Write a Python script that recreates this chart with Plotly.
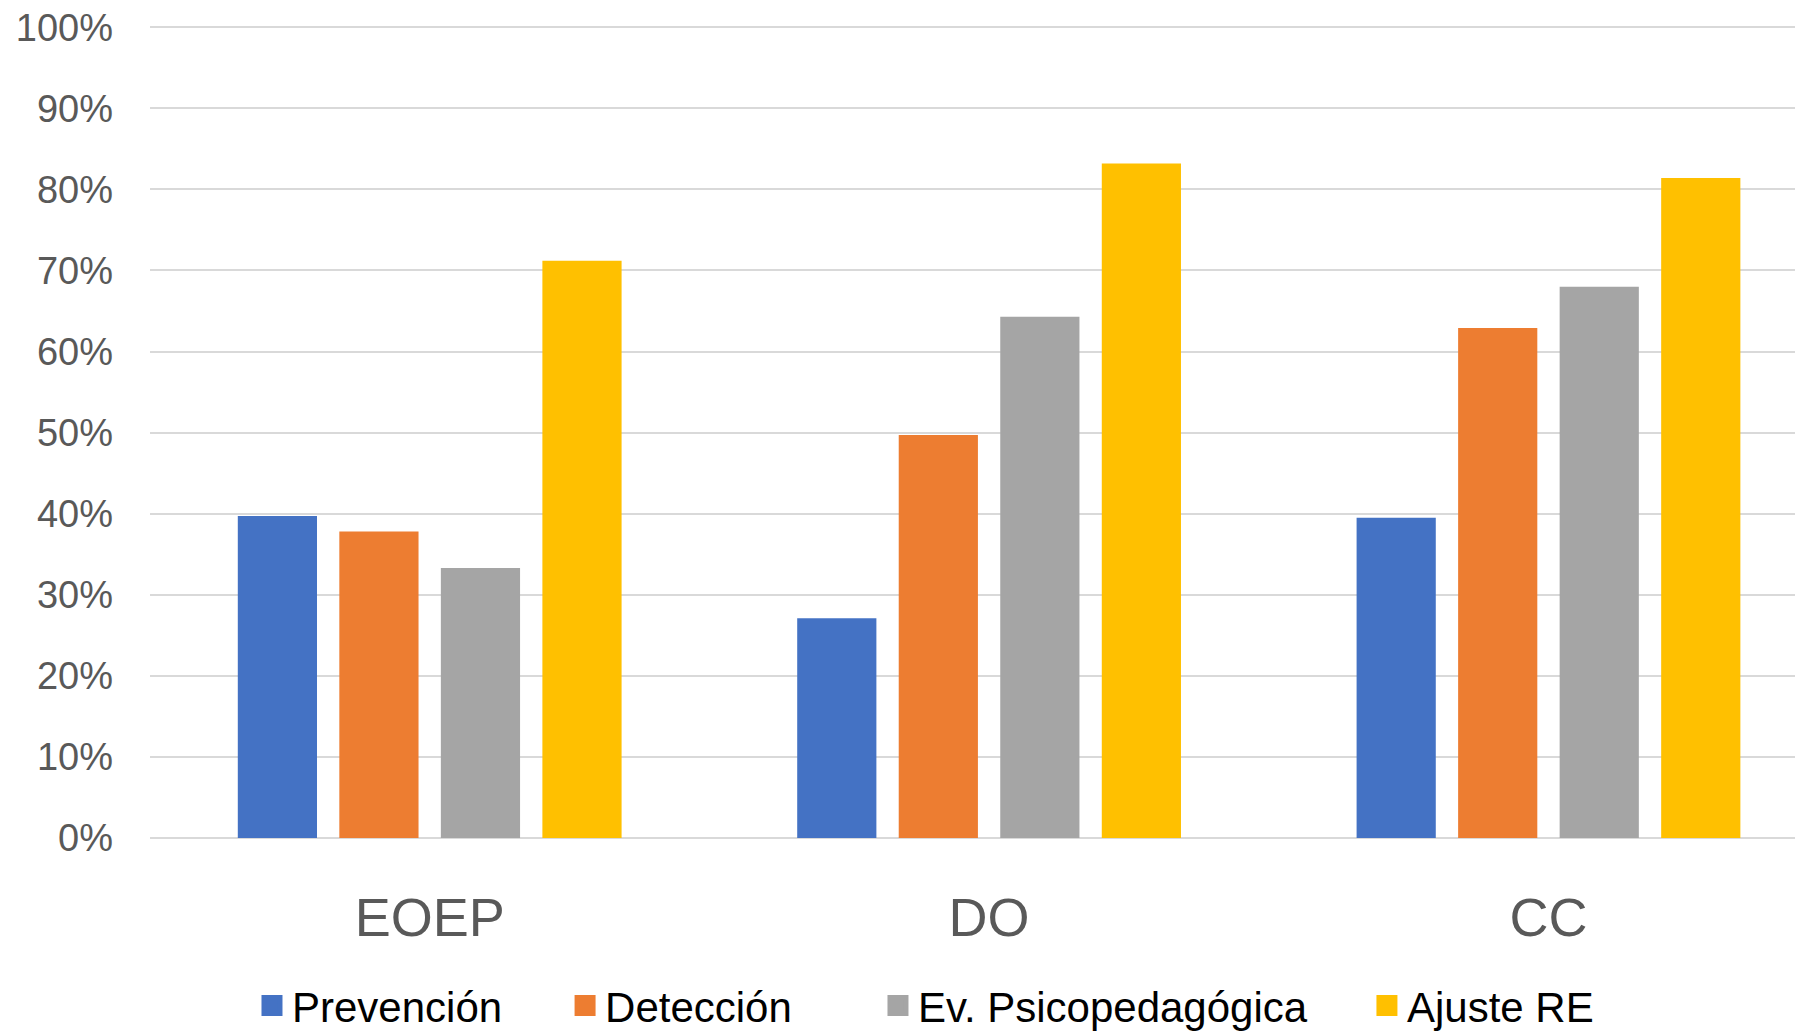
import plotly.graph_objects as go

categories = ["EOEP", "DO", "CC"]
series_names = ["Prevención", "Detección", "Ev. Psicopedagógica", "Ajuste RE"]
prevencion = [0.397, 0.271, 0.395]
deteccion = [0.378, 0.497, 0.629]
ev_psico = [0.333, 0.643, 0.680]
ajuste_re = [0.712, 0.832, 0.814]
colors = ["#4472C4", "#ED7D31", "#A5A5A5", "#FFC000"]
y_ticks = [0, 0.1, 0.2, 0.3, 0.4, 0.5, 0.6, 0.7, 0.8, 0.9, 1.0]

legend_ids = ["legend", "legend2", "legend3", "legend4"]
legend_x = [0.0617, 0.2511, 0.4404, 0.7362]

fig = go.Figure()
for name, vals, col in zip(series_names, [prevencion, deteccion, ev_psico, ajuste_re], colors):
    fig.add_trace(go.Bar(x=categories, y=vals, name=name, showlegend=False,
                         marker=dict(color=col, line=dict(width=0))))
for name, col, lid in zip(series_names, colors, legend_ids):
    fig.add_trace(go.Scatter(x=[None], y=[None], mode="markers", name=name, legend=lid,
                             marker=dict(symbol="square", size=16, color=col,
                                         line=dict(width=5, color=col))))

leg_font = dict(family="Liberation Sans", size=42, color="black")
legend_layout = {}
for lid, lx in zip(legend_ids, legend_x):
    legend_layout[lid] = dict(orientation="h", x=lx, xanchor="left", y=-0.2027, yanchor="middle",
                              font=leg_font, bgcolor="rgba(0,0,0,0)", borderwidth=0)

fig.update_layout(
    width=1795, height=1024,
    margin=dict(l=142, r=0, t=3, b=194, autoexpand=False),
    paper_bgcolor="white", plot_bgcolor="white",
    barmode="group", bargap=0.274, bargroupgap=0.22,
    showlegend=True,
    xaxis=dict(range=[-0.5, 2.455], showgrid=False, showline=False, ticks="",
               tickfont=dict(family="Liberation Sans", size=54, color="#595959"),
               ticklabelstandoff=43),
    yaxis=dict(range=[0, 1.02], tickvals=y_ticks, tickformat=".0%", showgrid=True,
               gridcolor="#D9D9D9", gridwidth=1.5, zeroline=True, zerolinecolor="#D9D9D9",
               zerolinewidth=1.5, showline=False, ticks="", ticklabeloverflow="allow",
               tickfont=dict(family="Liberation Sans", size=38, color="#595959"),
               ticklabelstandoff=36),
    **legend_layout,
)
fig.write_html("out.html")
